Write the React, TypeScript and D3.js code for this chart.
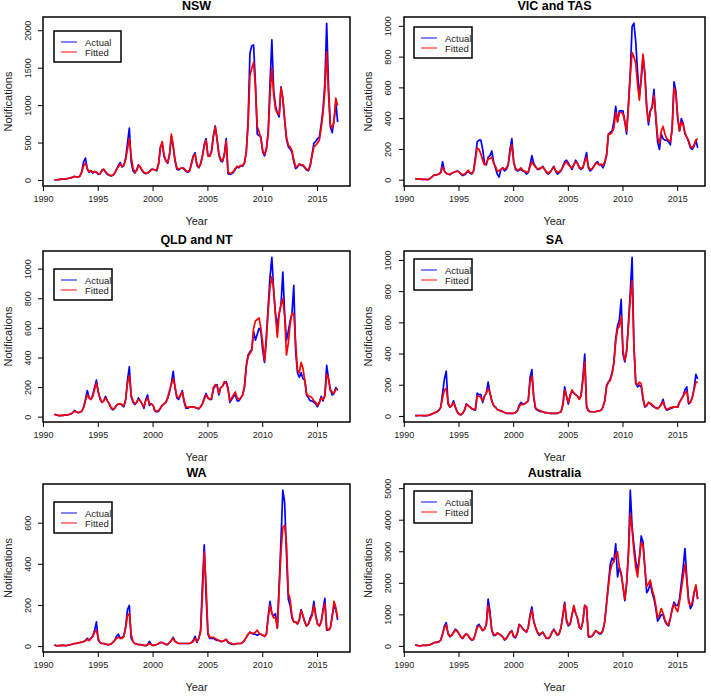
import React from "react";
import * as d3 from "d3";

// time index: bimonthly samples starting Jan 1991
const START_YEAR = 1991;
const STEPS_PER_YEAR = 6;

const xTickValues = [1990, 1995, 2000, 2005, 2010, 2015];
const seriesNames = ["Actual", "Fitted"];

const nswActual = [
  10, 10, 12, 15, 18, 20,
  20, 25, 30, 35, 45, 55,
  50, 45, 60, 120, 250, 300,
  150, 110, 130, 100, 120, 110,
  80, 90, 140, 150, 110, 80,
  70, 60, 70, 100, 150, 200,
  240, 180, 200, 300, 500, 700,
  250, 130, 100, 140, 210, 180,
  130, 100, 90, 100, 120, 150,
  150, 140, 130, 220, 450, 500,
  320, 260, 230, 350, 590, 450,
  260, 150, 140, 160, 170, 150,
  120, 110, 130, 230, 330, 370,
  200, 170, 220, 330, 480, 560,
  330, 330, 400, 600, 730, 550,
  350, 260, 250, 350, 560, 90,
  80, 90, 110, 150, 180, 170,
  200, 190, 230, 380, 800, 1700,
  1800, 1810, 1300, 620, 600, 580,
  380, 330, 420, 650, 1300, 1880,
  1200, 1000, 900, 850, 1250, 1100,
  800, 550, 450, 420, 380, 250,
  160, 180, 220, 200, 200, 170,
  140, 130, 200, 350, 500, 520,
  560, 580, 750, 950, 1300, 2100,
  1250, 720, 640, 800, 1050, 780,
];
const nswFitted = [
  10, 10, 12, 15, 18, 20,
  20, 25, 30, 35, 45, 50,
  50, 45, 60, 110, 200, 230,
  160, 120, 130, 110, 120, 110,
  90, 90, 130, 150, 120, 90,
  75, 65, 70, 100, 150, 180,
  220, 190, 200, 280, 420, 560,
  320, 170, 110, 130, 200, 180,
  140, 110, 95, 100, 120, 140,
  150, 140, 140, 220, 430, 520,
  340, 270, 240, 340, 620, 470,
  280, 170, 150, 160, 170, 160,
  130, 120, 130, 220, 320, 350,
  210, 180, 220, 320, 460, 540,
  330, 320, 380, 580, 720, 560,
  360, 280, 260, 340, 530, 120,
  90, 100, 120, 160, 190, 180,
  200, 200, 240, 380, 750, 1400,
  1500, 1580, 1250, 720, 650, 560,
  400, 350, 420, 620, 1150, 1500,
  1150, 950, 900, 880, 1240, 1100,
  820, 580, 470, 450, 400, 280,
  180, 190, 220, 210, 210, 180,
  150, 140, 200, 330, 450, 470,
  500, 540, 700, 900, 1200, 1720,
  1150, 750, 700, 780, 1100, 1000,
];

const vicActual = [
  10, 8, 8, 6, 6, 5,
  5, 3, 10, 20, 30, 35,
  35, 40, 50, 120, 60, 45,
  40, 35, 45, 50, 55, 60,
  55, 40, 30, 35, 45, 60,
  45, 40, 60, 150, 250, 260,
  260, 200, 110, 100, 150, 160,
  190, 120, 80, 40, 20, 70,
  80, 60, 70, 100, 200, 270,
  120, 70, 60, 65, 70, 60,
  55, 40, 50, 100, 160, 110,
  90, 70, 70, 80, 90, 70,
  50, 40, 50, 70, 90, 60,
  40, 50, 60, 90, 120, 130,
  110, 90, 70, 100, 130, 110,
  80, 70, 80, 130, 180, 80,
  60, 70, 90, 110, 120, 100,
  100, 80, 110, 160, 300, 310,
  320, 380, 480, 380, 450, 450,
  450, 380, 300, 500, 700, 1000,
  1020, 900, 700, 550, 650, 800,
  700, 480, 360, 450, 480, 590,
  400, 250, 200, 300, 270, 260,
  260, 250, 230, 350, 640, 580,
  400, 320, 400, 370, 300, 280,
  250, 210, 200, 220, 260, 210,
];
const vicFitted = [
  10, 8, 8, 7, 6, 5,
  5, 4, 10, 20, 30, 35,
  35, 40, 50, 85, 60, 45,
  40, 38, 45, 50, 55, 58,
  55, 42, 35, 40, 50, 65,
  50, 45, 60, 130, 210, 200,
  170, 130, 100, 110, 140, 140,
  150, 110, 90, 60, 60, 70,
  80, 70, 80, 100, 180, 230,
  120, 80, 65, 70, 80, 65,
  60, 50, 55, 90, 120, 100,
  85, 75, 75, 80, 85, 70,
  55, 45, 55, 70, 85, 65,
  50, 55, 65, 85, 110, 120,
  100, 90, 80, 100, 120, 110,
  85, 75, 85, 120, 150, 90,
  70, 75, 90, 110, 110, 100,
  105, 95, 120, 170, 300, 300,
  310, 340, 440, 380, 440, 440,
  430, 380, 320, 480, 680, 830,
  800, 760, 620, 520, 680, 820,
  680, 470, 380, 450, 470, 550,
  420, 280, 240, 320, 350, 300,
  270, 260, 250, 330, 600, 560,
  420, 320, 380, 360, 310, 280,
  260, 220, 210, 230, 260, 270,
];

const qldActual = [
  20, 15, 12, 10, 12, 12,
  15, 15, 18, 20, 30, 45,
  35, 30, 35, 40, 70, 120,
  180, 130, 120, 150, 200, 250,
  170, 120, 100, 110, 140, 110,
  90, 60, 50, 60, 80, 90,
  90, 80, 70, 120, 250, 340,
  140, 100, 85, 100, 130, 110,
  90, 60, 120, 150, 80, 90,
  80, 40, 35, 40, 60, 80,
  90, 100, 130, 170, 230, 310,
  200, 130, 120, 150, 180, 100,
  60, 60, 70, 70, 70, 65,
  60, 55, 70, 90, 130, 160,
  130, 120, 120, 190, 210, 220,
  150, 200, 210, 230, 240, 200,
  100, 120, 140, 150, 110, 110,
  130, 150, 200, 350, 420, 440,
  460, 580, 520, 560, 600, 580,
  450, 370, 550, 750, 950, 1080,
  850, 700, 620, 700, 760, 980,
  700, 520, 580, 650, 700, 890,
  450, 300, 270, 300, 260, 250,
  150, 130, 110, 110, 100, 90,
  70, 100, 140, 110, 150, 350,
  260, 190, 150, 160, 200, 180,
];
const qldFitted = [
  20, 15, 12, 10, 12, 12,
  15, 15, 18, 22, 30, 40,
  35, 30, 35, 40, 65, 110,
  150, 130, 120, 140, 190, 230,
  170, 130, 100, 110, 130, 110,
  90, 65, 55, 60, 80, 90,
  90, 85, 75, 120, 230, 280,
  150, 110, 90, 100, 120, 110,
  90, 70, 110, 130, 90, 90,
  80, 45, 40, 45, 60, 80,
  90, 100, 130, 180, 220, 260,
  210, 140, 130, 150, 170, 110,
  70, 65, 70, 70, 70, 65,
  60, 60, 70, 90, 120, 150,
  130, 120, 130, 200, 220, 210,
  160, 200, 210, 240, 230, 190,
  110, 130, 150, 170, 130, 120,
  130, 150, 210, 340, 410, 430,
  450, 600, 650, 660, 670, 600,
  500, 380, 520, 720, 880, 950,
  860, 680, 540, 700, 760, 800,
  680, 420, 500, 630, 700, 700,
  500, 320, 300, 370, 330, 250,
  160, 140, 140, 130, 110, 100,
  80, 100, 130, 120, 140, 290,
  260, 180, 170, 160, 190, 190,
];

const saActual = [
  5, 5, 6, 6, 5, 5,
  5, 6, 10, 15, 20, 25,
  30, 40, 60, 150, 240, 290,
  80, 60, 70, 100, 60, 30,
  15, 10, 20, 40, 80, 70,
  60, 50, 45, 40, 150, 140,
  140, 90, 130, 150, 220, 150,
  100, 70, 60, 45, 40, 35,
  30, 25, 20, 20, 20, 20,
  20, 25, 35, 70, 90, 80,
  80, 90, 100, 250, 300, 120,
  50, 40, 35, 30, 30, 25,
  25, 22, 20, 20, 20, 20,
  20, 25, 30, 80, 190, 130,
  80, 140, 160, 150, 140, 130,
  110, 140, 250, 400, 60, 35,
  30, 30, 30, 30, 35, 35,
  40, 60, 100, 200, 220, 240,
  280, 350, 500, 580, 620, 750,
  400, 350, 420, 600, 800, 1020,
  450, 210, 190, 200, 190, 110,
  60, 70, 90, 80, 70, 60,
  55, 50, 60, 80, 110, 60,
  40, 45, 50, 55, 60, 60,
  60, 90, 110, 130, 170, 190,
  80, 90, 120, 180, 270, 240,
];
const saFitted = [
  5, 5, 6, 6, 5, 5,
  5, 6, 10, 15, 20, 25,
  30, 40, 60, 120, 170, 180,
  90, 60, 70, 90, 60, 30,
  15, 12, 20, 40, 75, 70,
  60, 50, 45, 45, 130, 130,
  120, 100, 130, 150, 180, 150,
  100, 70, 60, 45, 40, 35,
  30, 25, 22, 20, 20, 20,
  20, 25, 35, 60, 80, 75,
  80, 90, 100, 220, 260, 130,
  55, 45, 40, 35, 30, 25,
  25, 22, 20, 20, 20, 20,
  20, 25, 30, 70, 170, 130,
  90, 130, 170, 150, 140, 130,
  110, 130, 230, 350, 70, 40,
  30, 30, 30, 30, 35, 35,
  40, 60, 100, 190, 220, 230,
  270, 340, 480, 560, 580, 640,
  420, 360, 420, 580, 760, 870,
  450, 220, 200, 220, 210, 120,
  65, 70, 90, 85, 75, 65,
  55, 50, 60, 75, 95, 60,
  45, 50, 55, 60, 60, 60,
  60, 90, 110, 130, 150, 160,
  90, 90, 120, 170, 220, 220,
];

const waActual = [
  8, 5, 4, 5, 6, 6,
  5, 6, 8, 10, 12, 15,
  15, 18, 20, 22, 25, 30,
  40, 30, 40, 50, 80, 120,
  30, 20, 15, 15, 12, 10,
  10, 12, 20, 30, 50, 60,
  40, 45, 50, 100, 180, 200,
  40, 25, 15, 12, 10, 10,
  8, 6, 5, 8, 25, 10,
  5, 8, 10, 15, 20, 20,
  15, 10, 10, 20, 30, 45,
  25, 20, 15, 15, 15, 15,
  15, 15, 15, 20, 30, 50,
  20, 40, 80, 300, 495, 250,
  60, 40, 40, 40, 35, 30,
  30, 25, 25, 30, 35, 20,
  15, 12, 10, 12, 15, 15,
  15, 20, 30, 45, 60, 70,
  65, 60, 60, 55, 60, 60,
  55, 50, 60, 150, 220, 160,
  150, 160, 90, 300, 520, 760,
  700, 450, 230, 200, 140, 120,
  120, 110, 130, 180, 150, 120,
  100, 110, 140, 160, 220, 150,
  110, 100, 120, 180, 235, 80,
  80, 90, 150, 200, 180, 130,
];
const waFitted = [
  8, 5, 5, 5, 6, 6,
  5, 6, 8, 10, 12, 15,
  15, 18, 20, 22, 25, 30,
  35, 30, 40, 50, 70, 80,
  40, 20, 15, 15, 12, 10,
  10, 12, 20, 30, 40, 45,
  40, 40, 50, 90, 150, 160,
  60, 25, 15, 12, 10, 10,
  8, 6, 6, 8, 15, 10,
  6, 8, 10, 15, 20, 20,
  15, 12, 10, 20, 30, 40,
  25, 20, 15, 15, 15, 15,
  15, 15, 15, 20, 25, 40,
  25, 40, 70, 250, 460, 300,
  70, 45, 45, 45, 40, 35,
  30, 25, 25, 30, 35, 22,
  18, 15, 12, 12, 15, 15,
  15, 20, 30, 45, 60, 70,
  65, 65, 70, 80, 65, 60,
  55, 50, 60, 140, 200, 160,
  140, 140, 90, 280, 460, 580,
  590, 500, 260, 230, 150, 120,
  120, 110, 130, 175, 150, 120,
  100, 110, 130, 150, 200, 150,
  110, 100, 120, 170, 210, 90,
  80, 90, 140, 220, 190, 140,
];

const ausActual = [
  50, 30, 20, 20, 30, 30,
  30, 40, 50, 80, 110, 130,
  130, 150, 200, 400, 650, 750,
  400, 300, 350, 450, 550, 500,
  400, 300, 250, 350, 400, 350,
  250, 200, 220, 400, 650, 700,
  600, 500, 550, 700, 1500, 1100,
  500, 350, 350, 420, 400, 350,
  300, 200, 250, 350, 450, 500,
  300, 280, 400, 700, 650, 550,
  500, 450, 600, 1000, 1250, 800,
  600, 450, 350, 400, 450, 350,
  250, 250, 300, 450, 550, 450,
  350, 400, 600, 1000, 1400, 800,
  650, 700, 1000, 1250, 1050, 900,
  600, 550, 800, 1300, 1250, 300,
  300, 320, 400, 500, 450, 400,
  400, 500, 800, 1400, 2000, 2600,
  2800, 2700, 3250, 2200, 2500, 2300,
  1900, 1450, 2000, 3000, 4950, 3800,
  3200, 2700, 2400, 2800, 3500, 3300,
  2500, 1700, 1800, 2000, 1700, 1500,
  1200, 800, 900, 1000, 1000, 800,
  700, 650, 900, 1200, 1400, 1300,
  1300, 1500, 2000, 2500, 3100, 2200,
  1500, 1200, 1300, 1700, 1900, 1500,
];
const ausFitted = [
  50, 30, 20, 20, 30, 30,
  30, 40, 50, 80, 110, 130,
  130, 150, 200, 380, 600, 680,
  420, 320, 350, 430, 520, 480,
  400, 300, 260, 340, 400, 350,
  260, 210, 230, 400, 600, 650,
  600, 500, 550, 700, 1300, 1000,
  520, 380, 360, 420, 400, 350,
  300, 220, 260, 350, 450, 480,
  320, 300, 420, 680, 650, 560,
  500, 460, 600, 950, 1150, 800,
  620, 460, 380, 420, 450, 350,
  260, 260, 320, 450, 520, 450,
  360, 420, 600, 950, 1350, 850,
  680, 720, 1000, 1300, 1050, 900,
  620, 560, 800, 1300, 1250, 350,
  300, 330, 420, 500, 460, 420,
  420, 520, 800, 1350, 1900, 2400,
  2600, 2700, 2900, 3000, 2500, 2300,
  1900, 1500, 2000, 2900, 4200, 3700,
  3000, 2500, 2200, 2800, 3300, 3200,
  2500, 1900, 2000, 2100, 1800, 1600,
  1300, 900, 1000, 1200, 1050, 850,
  720, 680, 900, 1150, 1350, 1200,
  1100, 1400, 1800, 2200, 2600, 2100,
  1400, 1300, 1400, 1700, 1950, 1500,
];

const nswTicks = [0, 500, 1000, 1500, 2000];
const vicTicks = [0, 200, 400, 600, 800, 1000];
const qldTicks = [0, 200, 400, 600, 800, 1000];
const saTicks = [0, 200, 400, 600, 800, 1000];
const waTicks = [0, 200, 400, 600];
const ausTicks = [0, 1000, 2000, 3000, 4000, 5000];

const panels = [
  { title: "NSW", actual: nswActual, fitted: nswFitted, yTicks: nswTicks, col: 0, row: 0 },
  { title: "VIC and TAS", actual: vicActual, fitted: vicFitted, yTicks: vicTicks, col: 1, row: 0 },
  { title: "QLD and NT", actual: qldActual, fitted: qldFitted, yTicks: qldTicks, col: 0, row: 1 },
  { title: "SA", actual: saActual, fitted: saFitted, yTicks: saTicks, col: 1, row: 1 },
  { title: "WA", actual: waActual, fitted: waFitted, yTicks: waTicks, col: 0, row: 2 },
  { title: "Australia", actual: ausActual, fitted: ausFitted, yTicks: ausTicks, col: 1, row: 2 },
];

// layout (pixels)
const COLS = [
  { left: 43, right: 350, xDomain: [1989.96, 2017.96], tickLabelX: 30.5, titleX: 11.5 },
  { left: 404, right: 705, xDomain: [1989.97, 2017.5], tickLabelX: 390.5, titleX: 371.5 },
];
const ROWS = [
  { top: 17, bottom: 186 },
  { top: 251, bottom: 422 },
  { top: 484, bottom: 652 },
];
const LEGENDS = [
  { x: 54, y: 31, w: 67, h: 31 },
  { x: 414, y: 27, w: 58, h: 31 },
  { x: 54, y: 269, w: 58, h: 31 },
  { x: 414, y: 259, w: 58, h: 31 },
  { x: 54, y: 502, w: 58, h: 31 },
  { x: 414, y: 491, w: 58, h: 32 },
];
const COLORS = ["#0000ff", "#ff0000"];
const FONT = "'Liberation Sans', Arial, sans-serif";
const TEXT = "#222";

function Panel({ p, idx }: { p: any; idx: number }) {
  const c = COLS[p.col];
  const r = ROWS[p.row];
  const all: number[] = p.actual.concat(p.fitted);
  const mn = d3.min(all) as number;
  const mx = d3.max(all) as number;
  const ext = (mx - mn) * 0.04;
  const x = d3.scaleLinear().domain(c.xDomain).range([c.left, c.right]);
  const y = d3.scaleLinear().domain([mn - ext, mx + ext]).range([r.bottom, r.top]);
  const line = d3
    .line<number>()
    .x((_, i) => x(START_YEAR + i / STEPS_PER_YEAR))
    .y((d) => y(d));
  const lg = LEGENDS[idx];
  const cx = (c.left + c.right) / 2;
  const cy = (r.top + r.bottom) / 2;
  return (
    <g>
      <text x={cx} y={r.top - 7.5} textAnchor="middle" fontFamily={FONT} fontWeight="bold" fontSize={12.5} fill="#000">
        {p.title}
      </text>
      <path d={line(p.actual) || ""} fill="none" stroke={COLORS[0]} strokeWidth={1.7} strokeLinejoin="round" />
      <path d={line(p.fitted) || ""} fill="none" stroke={COLORS[1]} strokeWidth={1.7} strokeLinejoin="round" />
      <rect x={c.left} y={r.top} width={c.right - c.left} height={r.bottom - r.top} fill="none" stroke="#000" strokeWidth={1.5} />
      {xTickValues.map((t) => (
        <g key={"x" + t}>
          <line x1={x(t)} x2={x(t)} y1={r.bottom} y2={r.bottom + 5} stroke="#000" strokeWidth={1} />
          <text x={x(t)} y={r.bottom + 16} textAnchor="middle" fontFamily={FONT} fontSize={9} fill={TEXT}>
            {t}
          </text>
        </g>
      ))}
      {p.yTicks.map((t: number) => (
        <g key={"y" + t}>
          <line x1={c.left - 5} x2={c.left} y1={y(t)} y2={y(t)} stroke="#000" strokeWidth={1} />
          <text
            transform={`translate(${c.tickLabelX},${y(t)}) rotate(-90)`}
            textAnchor="middle"
            fontFamily={FONT}
            fontSize={9}
            fill={TEXT}
          >
            {t}
          </text>
        </g>
      ))}
      <text x={cx} y={r.bottom + 39} textAnchor="middle" fontFamily={FONT} fontSize={11} fill={TEXT}>
        Year
      </text>
      <text
        transform={`translate(${c.titleX},${cy}) rotate(-90)`}
        textAnchor="middle"
        fontFamily={FONT}
        fontSize={11}
        fill={TEXT}
      >
        Notifications
      </text>
      <rect x={lg.x} y={lg.y} width={lg.w} height={lg.h} fill="#fff" stroke="#000" strokeWidth={1.5} />
      {seriesNames.map((s, i) => (
        <g key={s}>
          <line
            x1={lg.x + 7}
            x2={lg.x + 23}
            y1={lg.y + 11 + i * 10}
            y2={lg.y + 11 + i * 10}
            stroke={COLORS[i]}
            strokeOpacity={0.75}
            strokeWidth={1.3}
          />
          <text x={lg.x + 31} y={lg.y + 14.5 + i * 10} fontFamily={FONT} fontSize={9.5} fill={TEXT}>
            {s}
          </text>
        </g>
      ))}
    </g>
  );
}

export default function App() {
  return (
    <svg width={711} height={697} style={{ position: "absolute", left: 0, top: 0, background: "#fff" }}>
      <rect x={0} y={0} width={711} height={697} fill="#fff" />
      {panels.map((p, i) => (
        <Panel key={p.title} p={p} idx={i} />
      ))}
    </svg>
  );
}
